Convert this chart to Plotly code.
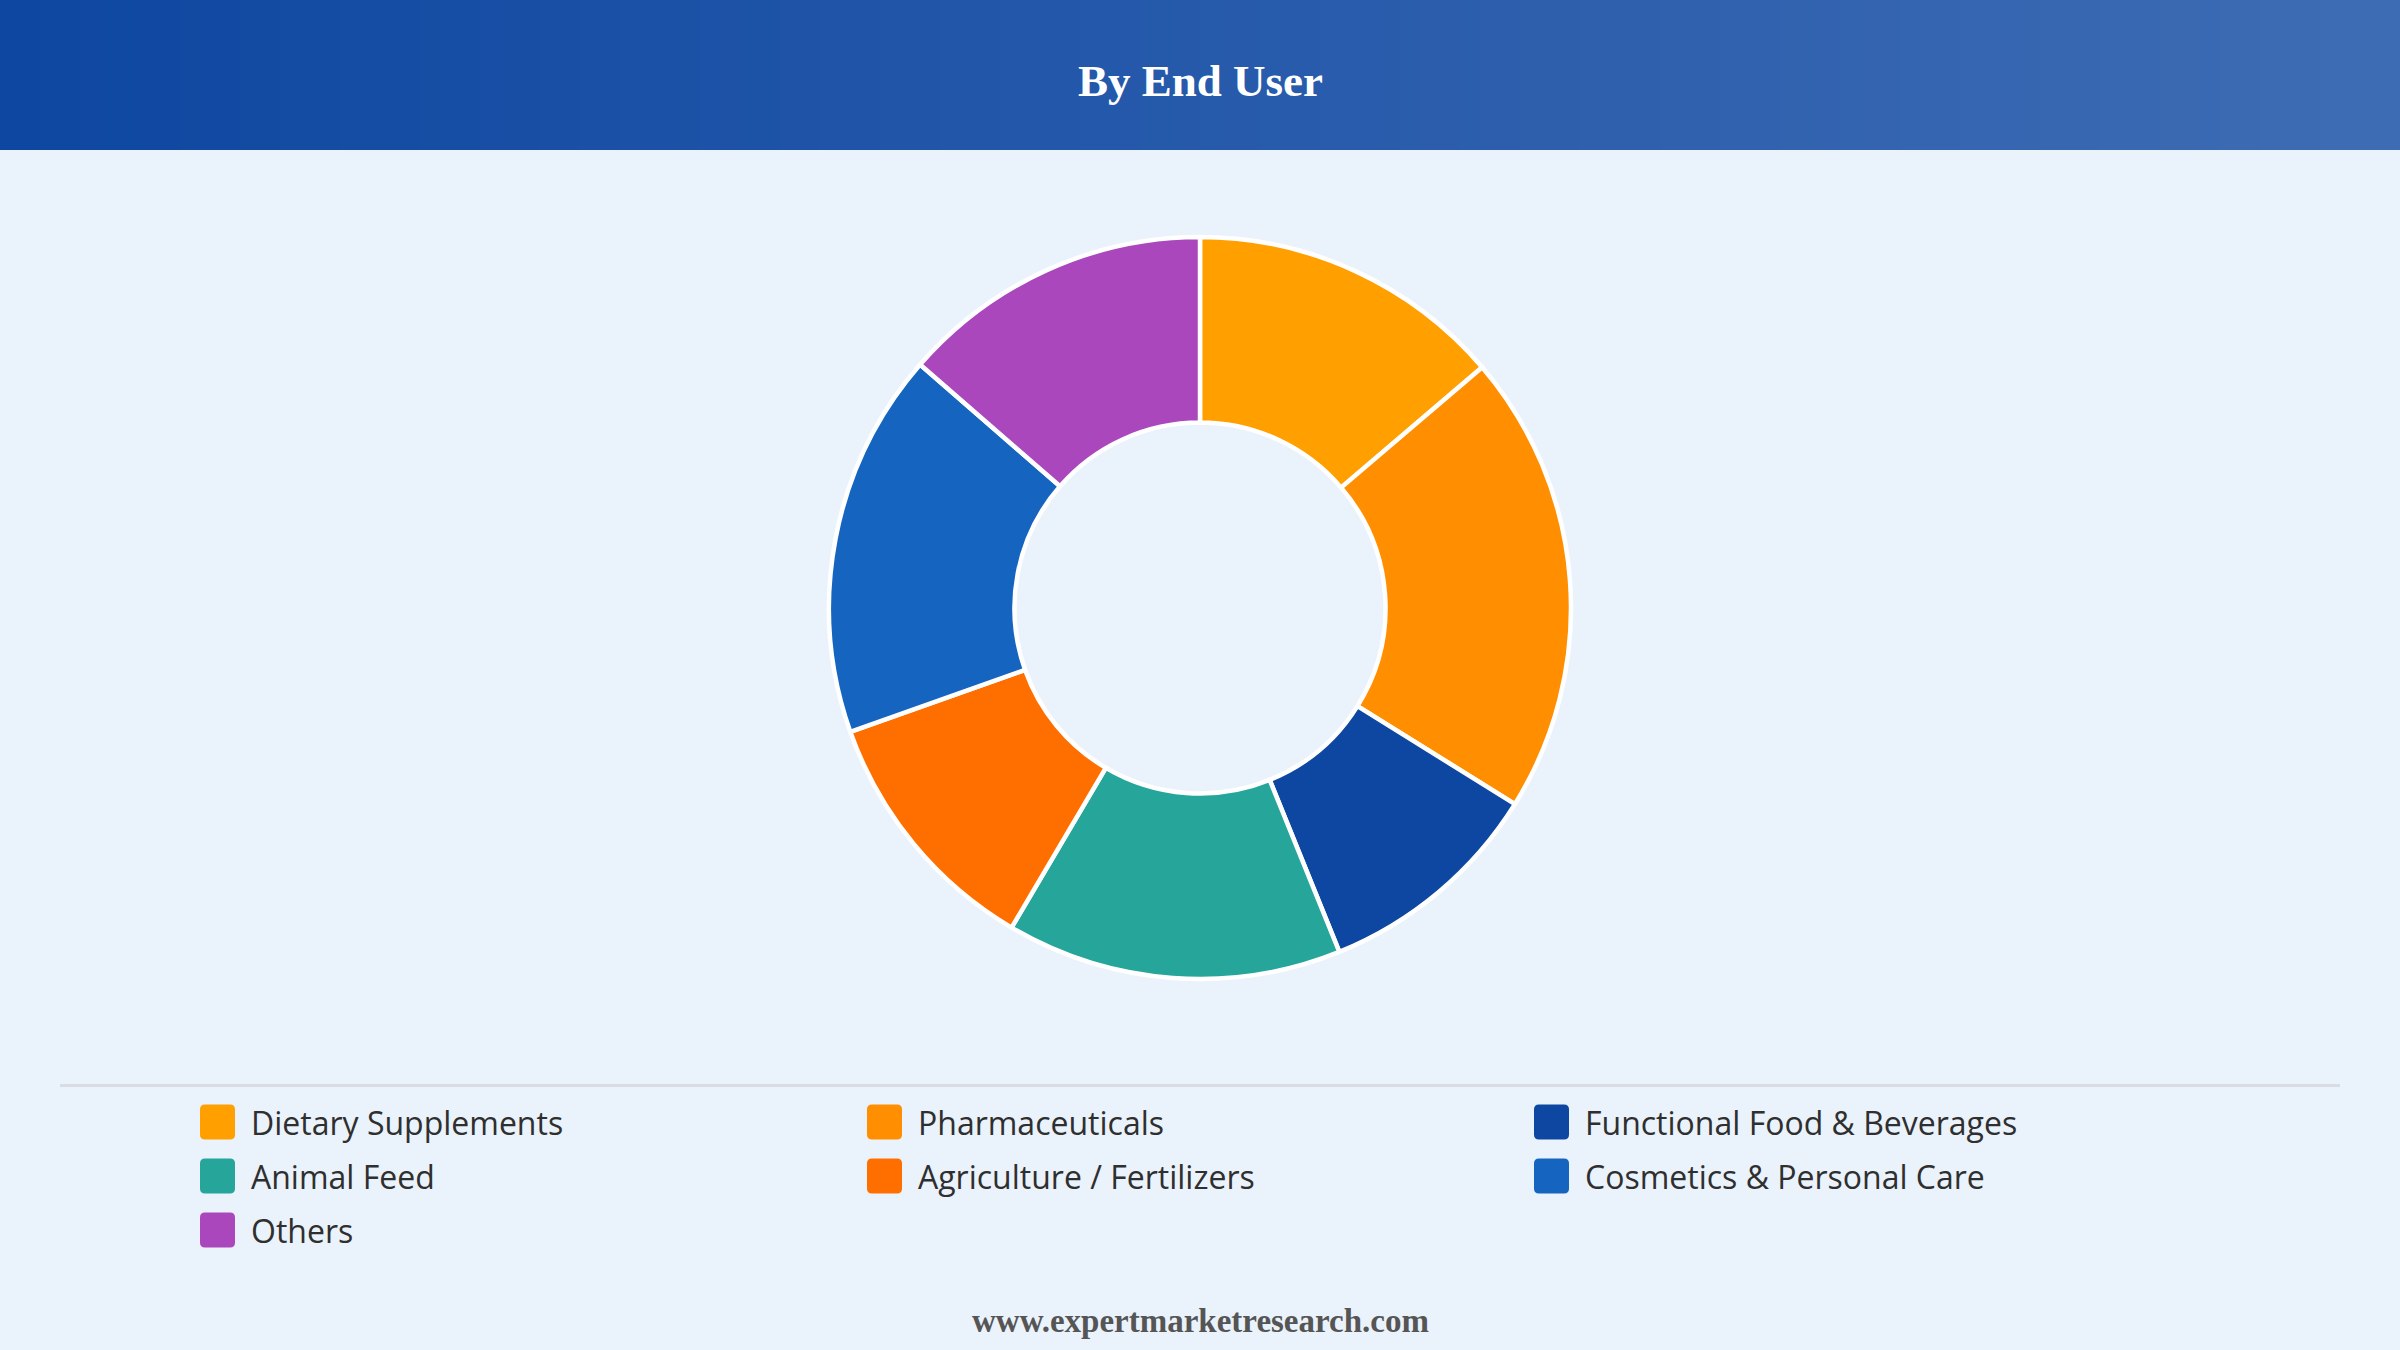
import plotly.graph_objects as go

W, H = 2400, 1350

categories = [
    "Dietary Supplements",
    "Pharmaceuticals",
    "Functional Food & Beverages",
    "Animal Feed",
    "Agriculture / Fertilizers",
    "Cosmetics & Personal Care",
    "Others",
]
shares = [13.75, 20.1, 10.0, 14.6, 11.1, 16.8, 13.6]
colors = ["#FFA000", "#FF8F00", "#0D47A1", "#26A69A", "#FF6F00", "#1565C0", "#AB47BC"]

title_text = "By End User"
footer_text = "www.expertmarketresearch.com"

BG = "#EAF2FB"


def px(x):
    return x / W


def py(y):
    return 1 - y / H


fig = go.Figure()

# donut: center (1200, 608), radius 371
cy = 608
r = 371
fig.add_trace(go.Pie(
    labels=categories,
    values=shares,
    marker=dict(colors=colors, line=dict(color="white", width=4.5)),
    hole=0.5,
    sort=False,
    direction="clockwise",
    rotation=0,
    textinfo="none",
    showlegend=False,
    domain=dict(x=[0, 1], y=[py(cy + r), py(cy - r)]),
))

shapes = []
# header gradient
c0 = (14, 71, 161)
c1 = (62, 108, 180)
n = 120
for i in range(n):
    t = i / (n - 1)
    col = tuple(round(c0[k] + (c1[k] - c0[k]) * t) for k in range(3))
    shapes.append(dict(
        type="rect", xref="paper", yref="paper",
        x0=px(i * W / n), x1=px((i + 1) * W / n + 1),
        y0=py(150), y1=py(0),
        fillcolor="rgb(%d,%d,%d)" % col, line=dict(width=0), layer="below",
    ))

# separator line
shapes.append(dict(
    type="line", xref="paper", yref="paper",
    x0=px(60), x1=px(2340), y0=py(1085.5), y1=py(1085.5),
    line=dict(color="#D9DDE3", width=3),
))

annotations = [
    dict(text="<b>%s</b>" % title_text, x=0.5, y=py(81), xref="paper", yref="paper",
         xanchor="center", yanchor="middle", showarrow=False,
         font=dict(family="Liberation Serif", size=45, color="white")),
    dict(text="<b>%s</b>" % footer_text, x=0.5, y=py(1321), xref="paper", yref="paper",
         xanchor="center", yanchor="middle", showarrow=False,
         font=dict(family="Liberation Serif", size=33, color="#555555")),
]


def rounded_rect(x0, y0, x1, y1, rad):
    X0, X1 = px(x0), px(x1)
    Y0, Y1 = py(y0), py(y1)
    rx = rad / W
    ry = rad / H
    return (f"M{X0+rx},{Y0} L{X1-rx},{Y0} Q{X1},{Y0} {X1},{Y0-ry} "
            f"L{X1},{Y1+ry} Q{X1},{Y1} {X1-rx},{Y1} "
            f"L{X0+rx},{Y1} Q{X0},{Y1} {X0},{Y1+ry} "
            f"L{X0},{Y0-ry} Q{X0},{Y0} {X0+rx},{Y0} Z")


# legend
col_x = [200, 867, 1534]
row_y = [1122, 1176, 1230]
sw = 35
for i, (lab, colr) in enumerate(zip(categories, colors)):
    cx = col_x[i % 3]
    ry_ = row_y[i // 3]
    shapes.append(dict(
        type="path", xref="paper", yref="paper",
        path=rounded_rect(cx, ry_ - sw / 2, cx + sw, ry_ + sw / 2, 5),
        fillcolor=colr, line=dict(width=0),
    ))
    annotations.append(dict(
        text=lab, x=px(cx + 49), y=py(ry_), xref="paper", yref="paper",
        xanchor="left", yanchor="middle", showarrow=False,
        font=dict(family="Open Sans", size=32, color="#2f2f2f"),
    ))

fig.update_layout(
    width=W, height=H,
    margin=dict(l=0, r=0, t=0, b=0),
    paper_bgcolor=BG, plot_bgcolor=BG,
    shapes=shapes, annotations=annotations,
)

fig.write_html("out.html")
